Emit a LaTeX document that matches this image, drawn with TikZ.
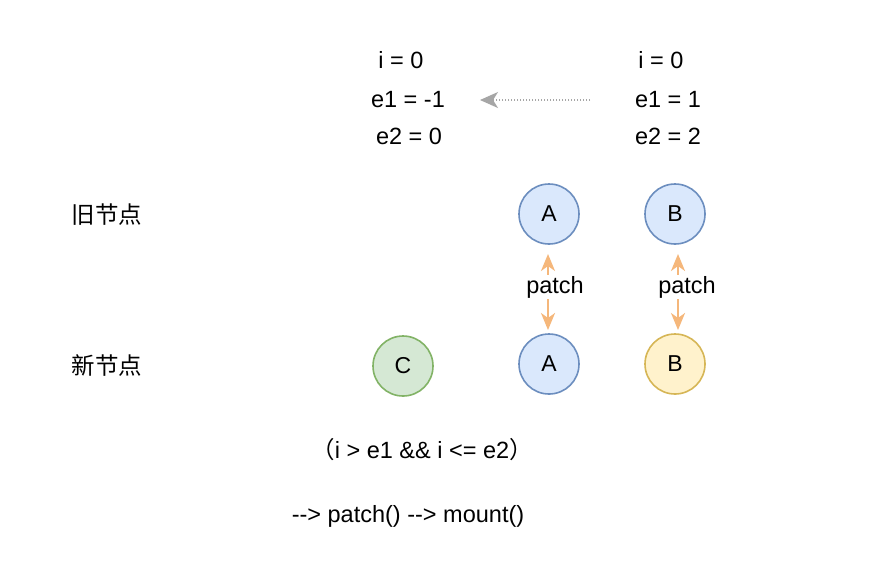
\documentclass[tikz,border=0pt]{standalone}
\usepackage{fontspec}
\setmainfont{Liberation Sans}
\newfontfamily\cjk{Noto Sans CJK SC}
\usetikzlibrary{arrows.meta}
\definecolor{bluefill}{HTML}{DAE8FC}
\definecolor{bluedraw}{HTML}{6C8EBF}
\definecolor{greenfill}{HTML}{D5E8D4}
\definecolor{greendraw}{HTML}{82B366}
\definecolor{yellowfill}{HTML}{FFF2CC}
\definecolor{yellowdraw}{HTML}{D6B656}
\definecolor{orangeline}{HTML}{F5B77B}
\definecolor{grayline}{HTML}{A6A6A6}
\tikzset{
  lbl/.style={inner sep=1pt, font=\fontsize{23.5}{28}\selectfont},
  cjklbl/.style={inner sep=1pt, font=\cjk\fontsize{23.5}{28}\selectfont},
  nodecirc/.style={circle, minimum size=60pt, inner sep=0pt, line width=1.6pt, font=\fontsize{23}{28}\selectfont},
  bluecirc/.style={nodecirc, fill=bluefill, draw=bluedraw},
  greencirc/.style={nodecirc, fill=greenfill, draw=greendraw},
  yellowcirc/.style={nodecirc, fill=yellowfill, draw=yellowdraw},
  patcharrow/.style={draw=orangeline, line width=2pt, {Stealth[length=17pt,width=14pt,inset=5pt]}-{Stealth[length=17pt,width=14pt,inset=5pt]}},
  patchlbl/.style={lbl, fill=white, inner sep=1pt},
  grayarrow/.style={draw=grayline, line width=1.5pt, dash pattern=on 1.5pt off 1.5pt, -{Stealth[length=18pt,width=16pt,inset=5pt,sep=0pt]}},
}
\begin{document}
\begin{tikzpicture}[x=1pt,y=-1pt]
\useasboundingbox (0,0) rectangle (890,566);
\fill[white] (0,0) rectangle (890,566);
% left variables
\node[lbl] (li) at (401,60) {i = 0};
\node[lbl] (le1) at (408,100) {e1 = -1};
\node[lbl] (le2) at (409,136) {e2 = 0};
% right variables
\node[lbl] (ri) at (661,60) {i = 0};
\node[lbl] (re1) at (668,100) {e1 = 1};
\node[lbl] (re2) at (668,136) {e2 = 2};
\coordinate (gs) at (590,100);
\coordinate (ge) at (480,100);
\draw[grayarrow] (gs) -- (ge);
% row labels
\node[cjklbl] (old) at (107,215) {旧节点};
\node[cjklbl] (new) at (107,365) {新节点};
% circles
\node[bluecirc] (oa) at (549,214) {A};
\node[bluecirc] (ob) at (675,214) {B};
\node[greencirc] (nc) at (403,366) {C};
\node[bluecirc] (na) at (549,364) {A};
\node[yellowcirc] (nb) at (675,364) {B};
% patch arrows
\coordinate (a1) at (548,254);
\coordinate (a2) at (548,330);
\coordinate (b1) at (678,254);
\coordinate (b2) at (678,330);
\draw[patcharrow] (a1) -- (a2);
\draw[patcharrow] (b1) -- (b2);
\node[patchlbl] (pl) at (555,287) {patch};
\node[patchlbl] (pr) at (687,287) {patch};
% bottom text
\node[lbl] (cond) at (422,450) {{\cjk （}i > e1 \&\& i <= e2{\cjk ）}};
\node[lbl] (flow) at (408,516) {-{}-> patch() -{}-> mount()};
\end{tikzpicture}
\end{document}
